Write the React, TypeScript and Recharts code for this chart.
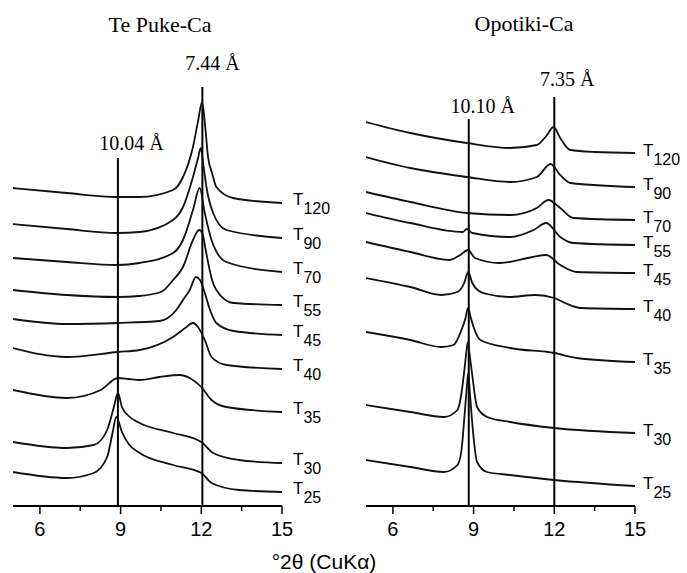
import React from 'react';
import { LineChart, Line, XAxis, YAxis, ReferenceLine, ReferenceDot } from 'recharts';

type Pt = [number, number];

// °2θ vs stacked intensity (arbitrary units, offset per heating step)
// Te Puke-Ca
const tp120: Pt[] = [[5, 318], [7, 313], [8.85, 309], [9.7, 309], [10.95, 316], [11.32, 329], [11.69, 359], [11.88, 385], [12.03, 404], [12.15, 378], [12.25, 349], [12.4, 333], [12.56, 319], [13.18, 308], [15, 303]];
const tp90: Pt[] = [[5, 282], [7, 277], [8.85, 273], [9.7, 274], [10.95, 286], [11.32, 299], [11.69, 329], [11.88, 348], [11.98, 358], [12.08, 340], [12.19, 319], [12.44, 293], [12.93, 276], [15, 268]];
const tp70: Pt[] = [[5, 248], [7, 244], [8.85, 241], [9.7, 243], [10.95, 253], [11.32, 266], [11.69, 296], [11.94, 318], [12.13, 293], [12.38, 266], [12.93, 244], [15, 234]];
const tp55: Pt[] = [[5, 216], [7, 211], [8.9, 209], [9.7, 210], [10.5, 214], [10.95, 226], [11.32, 239], [11.69, 266], [11.92, 276], [12.05, 272], [12.15, 258], [12.25, 244], [12.4, 226], [12.56, 216], [13.18, 203], [15, 201]];
const tp45: Pt[] = [[5, 187], [7, 182], [8.9, 183], [10.45, 185], [11.07, 196], [11.32, 206], [11.57, 216], [11.8, 229], [11.95, 226], [12.13, 213], [12.3, 198], [12.56, 183], [13.2, 175], [15, 171]];
const tp40: Pt[] = [[5, 158], [7, 149], [8.9, 154], [9.71, 156], [10.95, 169], [11.4, 178], [11.69, 183], [11.85, 180], [12.13, 166], [12.38, 149], [12.93, 141], [15, 137]];
const tp35: Pt[] = [[5, 116], [7, 108], [8.26, 116], [8.9, 128], [9.3, 127], [9.71, 126], [10.45, 129], [11.2, 131], [11.57, 128], [12.0, 119], [12.38, 106], [12.93, 99], [15, 94]];
const tp30: Pt[] = [[5, 64], [7, 58], [8.0, 61], [8.5, 76], [8.75, 99], [8.9, 113], [9.05, 99], [9.3, 90], [9.71, 83], [10.95, 73], [12.0, 64], [12.44, 53], [13.4, 46], [15, 43]];
const tp25: Pt[] = [[5, 34], [7, 28], [8.0, 33], [8.5, 49], [8.7, 73], [8.84, 89], [9.05, 74], [9.3, 62], [9.71, 53], [10.95, 41], [12.0, 33], [12.38, 23], [13.4, 16], [15, 14]];

// Opotiki-Ca
const op120: Pt[] = [[5, 384], [6.65, 373], [8.75, 363], [10.36, 358], [11.35, 361], [11.73, 371], [11.97, 379], [12.22, 368], [12.6, 356], [13.5, 354], [15, 353]];
const op90: Pt[] = [[5, 349], [6.65, 338], [8.75, 329], [10.36, 324], [11.35, 329], [11.86, 342], [12.22, 331], [12.6, 323], [15, 319]];
const op70: Pt[] = [[5, 314], [6.65, 304], [8.75, 293], [10.36, 291], [11.35, 298], [11.78, 306], [12.22, 298], [12.7, 288], [15, 286]];
const op55: Pt[] = [[5, 293], [6.65, 283], [8.6, 274], [8.75, 277], [8.95, 273], [10.36, 269], [11.23, 276], [11.7, 283], [12.22, 269], [12.7, 263], [15, 261]];
const op45: Pt[] = [[5, 264], [6.65, 254], [8.1, 246], [8.5, 251], [8.79, 256], [9.05, 248], [9.97, 243], [11.2, 249], [11.7, 251], [12.22, 241], [12.85, 234], [15, 233]];
const op40: Pt[] = [[5, 228], [6.65, 219], [7.8, 211], [8.4, 214], [8.65, 223], [8.8, 234], [8.95, 223], [9.2, 215], [9.5, 212], [10.3, 209], [11.3, 211], [12.0, 208], [12.4, 203], [13.0, 198], [15, 197]];
const op35: Pt[] = [[5, 174], [6.65, 166], [7.8, 159], [8.25, 161], [8.55, 176], [8.7, 188], [8.79, 198], [8.9, 188], [9.0, 179], [9.25, 166], [10.36, 158], [12.0, 153], [12.85, 148], [15, 144]];
const op30: Pt[] = [[5, 101], [6.65, 94], [7.9, 89], [8.4, 96], [8.55, 113], [8.67, 139], [8.74, 156], [8.79, 164], [8.84, 154], [8.94, 133], [9.13, 99], [9.5, 89], [10.36, 84], [12.0, 78], [15, 73]];
const op25: Pt[] = [[5, 46], [6.65, 39], [7.9, 34], [8.4, 41], [8.55, 56], [8.67, 93], [8.74, 116], [8.8, 133], [8.86, 114], [8.94, 86], [9.13, 44], [9.5, 34], [10.36, 31], [12.0, 26], [15, 20]];

const tpSteps = ['120', '90', '70', '55', '45', '40', '35', '30', '25'];
const tpTraces = [tp120, tp90, tp70, tp55, tp45, tp40, tp35, tp30, tp25];
const opSteps = ['120', '90', '70', '55', '45', '40', '35', '30', '25'];
const opTraces = [op120, op90, op70, op55, op45, op40, op35, op30, op25];

// peak markers: position (°2θ), d-spacing label, top of marker line
const tpPeaks = [
  { x: 8.9, d: '10.04 Å', top: 348 },
  { x: 12.04, d: '7.44 Å', top: 419 },
];
const opPeaks = [
  { x: 8.82, d: '10.10 Å', top: 387 },
  { x: 12.0, d: '7.35 Å', top: 409 },
];

const xTicks = [6, 7.5, 9, 10.5, 12, 13.5, 15];

const SANS = '"Liberation Sans", Arial, sans-serif';
const SERIF = '"Liberation Serif", "Times New Roman", serif';

const XTick = (props: any) => {
  const { x, y, payload } = props;
  const major = Number.isInteger(payload.value);
  return (
    <g>
      <line x1={x} x2={x} y1={y} y2={y + (major ? 8 : 5)} stroke="#000" strokeWidth={1.5} />
      {major && (
        <text x={x} y={y + 30} textAnchor="middle" fontSize={20} fontFamily={SANS} fill="#000">
          {payload.value}
        </text>
      )}
    </g>
  );
};

const PeakTag = (props: any) => {
  const { viewBox, text, dx, dy } = props;
  if (!viewBox) return null;
  return (
    <text x={viewBox.x + dx} y={viewBox.y + dy} textAnchor="middle" fontSize={20} fontFamily={SERIF} fill="#000">
      {text}
    </text>
  );
};

const Panel = ({ traces, steps, peaks, left, width, marginLeft, marginRight, tagDx, tagDy, tagOffsets }: any) => (
  <div style={{ position: 'absolute', left, top: 0 }}>
    <LineChart
      width={width}
      height={573}
      margin={{ top: 62, right: marginRight, bottom: 27, left: marginLeft }}
    >
      <XAxis
        type="number"
        dataKey="x"
        domain={[5, 15]}
        ticks={xTicks}
        allowDataOverflow
        height={40}
        tickSize={0}
        tickMargin={0}
        tickLine={false}
        axisLine={{ stroke: '#000', strokeWidth: 2 }}
        tick={<XTick />}
        interval={0}
      />
      <YAxis
        type="number"
        dataKey="y"
        domain={[0, 444]}
        width={0}
        tick={false}
        tickLine={false}
        axisLine={{ stroke: '#000', strokeWidth: 2 }}
      />
      {peaks.map((p: any, i: number) => (
        <ReferenceLine
          key={'l' + i}
          segment={[{ x: p.x, y: 0 }, { x: p.x, y: p.top }]}
          stroke="#000"
          strokeWidth={2}
        />
      ))}
      {peaks.map((p: any, i: number) => (
        <ReferenceDot
          key={'d' + i}
          x={p.x}
          y={p.top}
          r={0}
          fill="none"
          stroke="none"
          label={<PeakTag text={p.d} dx={tagOffsets[i][0]} dy={tagOffsets[i][1]} />}
        />
      ))}
      {traces.map((pts: Pt[], i: number) => {
        const rows = pts.map(([x, y]) => ({ x, y }));
        return (
          <Line
            key={steps[i]}
            data={rows}
            dataKey="y"
            type="monotone"
            stroke="#111"
            strokeWidth={1.8}
            dot={false}
            activeDot={false}
            isAnimationActive={false}
            label={(lp: any) =>
              lp.index === rows.length - 1 ? (
                <text key={'t' + i} x={lp.x + tagDx} y={lp.y + tagDy} fontSize={17} fontFamily={SANS} fill="#000">
                  T
                  <tspan dy={9} fontSize={16}>
                    {steps[i]}
                  </tspan>
                </text>
              ) : null
            }
          />
        );
      })}
    </LineChart>
  </div>
);

export default function App() {
  return (
    <div style={{ position: 'absolute', left: 0, top: 0, width: 687, height: 573, background: '#fff' }}>
      <Panel
        traces={tpTraces}
        steps={tpSteps}
        peaks={tpPeaks}
        left={0}
        width={343}
        marginLeft={13}
        marginRight={61}
        tagDx={11}
        tagDy={2}
        tagOffsets={[[13.5, -8], [10, -17]]}
      />
      <Panel
        traces={opTraces}
        steps={opSteps}
        peaks={opPeaks}
        left={343}
        width={344}
        marginLeft={23}
        marginRight={52}
        tagDx={8}
        tagDy={3}
        tagOffsets={[[14, -6], [13, -11]]}
      />
      <svg width={687} height={573} style={{ position: 'absolute', left: 0, top: 0, pointerEvents: 'none' }}>
        <text x={160} y={32} textAnchor="middle" fontSize={22} fontFamily={SERIF} fill="#000">
          Te Puke-Ca
        </text>
        <text x={524} y={31} textAnchor="middle" fontSize={22} fontFamily={SERIF} fill="#000">
          Opotiki-Ca
        </text>
        <text x={324} y={569} textAnchor="middle" fontSize={21} fontFamily={SANS} fill="#000">
          °2θ (CuKα)
        </text>
      </svg>
    </div>
  );
}
